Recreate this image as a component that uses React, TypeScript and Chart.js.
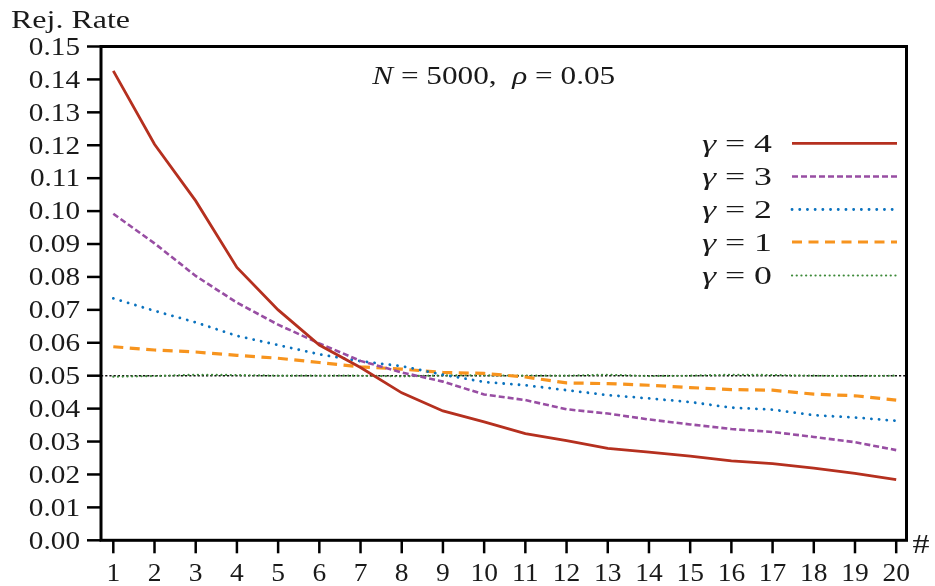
import React, { useEffect, useRef } from "react";
import { Chart, registerables } from "chart.js";

Chart.register(...registerables);

// ---- data ----
const steps = [1, 2, 3, 4, 5, 6, 7, 8, 9, 10, 11, 12, 13, 14, 15, 16, 17, 18, 19, 20];
const gamma4 = [0.1426, 0.1203, 0.1031, 0.0829, 0.0700, 0.0593, 0.0525, 0.0448, 0.0393, 0.0360, 0.0324, 0.0303, 0.0279, 0.0268, 0.0256, 0.0241, 0.0233, 0.0219, 0.0203, 0.0184];
const gamma3 = [0.0992, 0.0902, 0.0803, 0.0722, 0.0655, 0.0598, 0.0545, 0.0510, 0.0482, 0.0443, 0.0426, 0.0398, 0.0385, 0.0367, 0.0352, 0.0338, 0.0329, 0.0314, 0.0298, 0.0274];
const gamma2 = [0.0735, 0.0697, 0.0662, 0.0621, 0.0593, 0.0565, 0.0544, 0.0529, 0.0503, 0.0481, 0.0471, 0.0456, 0.0441, 0.0431, 0.0420, 0.0403, 0.0397, 0.0380, 0.0373, 0.0363];
const gamma1 = [0.0588, 0.0578, 0.0572, 0.0562, 0.0553, 0.0540, 0.0527, 0.0520, 0.0510, 0.0507, 0.0496, 0.0478, 0.0476, 0.0471, 0.0464, 0.0458, 0.0456, 0.0444, 0.0439, 0.0426];
const gamma0 = [0.0497, 0.0499, 0.0503, 0.0502, 0.0500, 0.0500, 0.0500, 0.0498, 0.0501, 0.0501, 0.0500, 0.0500, 0.0503, 0.0499, 0.0500, 0.0503, 0.0502, 0.0500, 0.0499, 0.0500];
const seriesNames = ["4", "3", "2", "1", "0"];
const yTickValues = [0, 0.01, 0.02, 0.03, 0.04, 0.05, 0.06, 0.07, 0.08, 0.09, 0.1, 0.11, 0.12, 0.13, 0.14, 0.15];
const yTickLabels = ["0.00", "0.01", "0.02", "0.03", "0.04", "0.05", "0.06", "0.07", "0.08", "0.09", "0.10", "0.11", "0.12", "0.13", "0.14", "0.15"];
const xTickLabels = ["1", "2", "3", "4", "5", "6", "7", "8", "9", "10", "11", "12", "13", "14", "15", "16", "17", "18", "19", "20"];
const referenceLevel = 0.05;
const yAxisTitle = "Rej. Rate";
const xAxisTitle = "#";
const titleN = "5000";
const titleRho = "0.05";

const FONT = '"Liberation Serif", "Times New Roman", serif';
const FS = 25;

type Part = [string, boolean];

function drawRich(
  ctx: CanvasRenderingContext2D,
  parts: Part[],
  x: number,
  y: number,
  align: "left" | "center" | "right",
  scale: number,
  targetWidth?: number,
  size: number = FS
) {
  ctx.save();
  ctx.textAlign = "left";
  ctx.textBaseline = "alphabetic";
  let total = 0;
  const widths: number[] = [];
  for (const [t, it] of parts) {
    ctx.font = `${it ? "italic " : ""}${size}px ${FONT}`;
    const w = ctx.measureText(t).width;
    widths.push(w);
    total += w;
  }
  const s = targetWidth ? targetWidth / total : scale;
  let sx = x;
  if (align === "center") sx = x - (total * s) / 2;
  else if (align === "right") sx = x - total * s;
  ctx.translate(sx, y);
  ctx.scale(s, 1);
  ctx.fillStyle = "#1a1a1a";
  let cx = 0;
  parts.forEach(([t, it], i) => {
    ctx.font = `${it ? "italic " : ""}${size}px ${FONT}`;
    ctx.fillText(t, cx, 0);
    cx += widths[i];
  });
  ctx.restore();
}

const decorPlugin = {
  id: "decor",
  beforeDatasetsDraw(chart: any) {
    const { ctx, chartArea, scales } = chart;
    const y = scales.y.getPixelForValue(referenceLevel);
    ctx.save();
    ctx.strokeStyle = "#111";
    ctx.lineWidth = 1.6;
    ctx.setLineDash([2.2, 2]);
    ctx.beginPath();
    ctx.moveTo(chartArea.left, y);
    ctx.lineTo(chartArea.right, y);
    ctx.stroke();
    ctx.restore();
  },
  afterDraw(chart: any) {
    const { ctx, chartArea, scales } = chart;
    const { left, right, top, bottom } = chartArea;
    ctx.save();
    ctx.strokeStyle = "#000";
    ctx.setLineDash([]);
    // y ticks
    ctx.lineWidth = 2.5;
    yTickValues.forEach((v, i) => {
      const py = scales.y.getPixelForValue(v);
      ctx.beginPath();
      ctx.moveTo(left - 14, py);
      ctx.lineTo(left, py);
      ctx.stroke();
      drawRich(ctx, [[yTickLabels[i], false]], left - 21, py + 8.3, "right", 1.17);
    });
    // x ticks
    steps.forEach((s, i) => {
      const px = scales.x.getPixelForValue(s);
      ctx.beginPath();
      ctx.moveTo(px, bottom);
      ctx.lineTo(px, bottom + 13);
      ctx.stroke();
      drawRich(ctx, [[xTickLabels[i], false]], px, bottom + 40.5, "center", 1.1);
    });
    // frame
    ctx.lineWidth = 3;
    ctx.strokeRect(left, top, right - left, bottom - top);
    ctx.restore();

    // axis titles
    drawRich(ctx, [[yAxisTitle, false]], 11, 27.5, "left", 1, 119);
    drawRich(ctx, [[xAxisTitle, false]], right + 6, bottom + 13, "left", 1, 17, 28);
    // title
    drawRich(
      ctx,
      [["N", true], [" = " + titleN + ",  ", false], ["ρ", true], [" = " + titleRho, false]],
      (left + right) / 2 - 10,
      84,
      "center",
      1,
      243
    );
    // legend
    const rowY = [143.3, 176.5, 209.5, 242, 275.5];
    chart.data.datasets.forEach((ds: any, i: number) => {
      const ry = rowY[i];
      drawRich(ctx, [["γ", true], [" = " + seriesNames[i], false]], 702, ry + 8.5, "left", 1, 70);
      ctx.save();
      ctx.strokeStyle = ds.borderColor;
      ctx.lineWidth = ds.borderWidth;
      ctx.lineCap = ds.borderCapStyle || "butt";
      ctx.setLineDash(ds.borderDash || []);
      ctx.beginPath();
      ctx.moveTo(792, ry);
      ctx.lineTo(897, ry);
      ctx.stroke();
      ctx.restore();
    });
  },
};

function toPoints(vals: number[]) {
  return steps.map((s, i) => ({ x: s, y: vals[i] }));
}

export default function App() {
  const ref = useRef<HTMLCanvasElement | null>(null);
  useEffect(() => {
    document.body.style.margin = "0";
    const canvas = ref.current;
    if (!canvas) return;
    const chart = new Chart(canvas, {
      type: "line",
      data: {
        datasets: [
          { label: "γ = 4", data: toPoints(gamma4), borderColor: "#B5301F", borderWidth: 2.8, borderDash: [], pointRadius: 0, tension: 0 },
          { label: "γ = 3", data: toPoints(gamma3), borderColor: "#984EA3", borderWidth: 2.6, borderDash: [6, 3], pointRadius: 0, tension: 0 },
          { label: "γ = 2", data: toPoints(gamma2), borderColor: "#0A72BE", borderWidth: 2.8, borderDash: [0.1, 7.6], borderCapStyle: "round", pointRadius: 0, tension: 0 },
          { label: "γ = 1", data: toPoints(gamma1), borderColor: "#F7941E", borderWidth: 3.2, borderDash: [10, 6.5], pointRadius: 0, tension: 0 },
          { label: "γ = 0", data: toPoints(gamma0), borderColor: "#3E8A3A", borderWidth: 2.2, borderDash: [0.1, 4.6], borderCapStyle: "round", pointRadius: 0, tension: 0 },
        ] as any,
      },
      options: {
        animation: false,
        responsive: false,
        devicePixelRatio: 1,
        layout: { padding: { left: 101, right: 28.5, top: 46.5, bottom: 45.7 } },
        scales: {
          x: { type: "linear", min: 0.7015, max: 20.25, display: false },
          y: { type: "linear", min: 0, max: 0.15, display: false },
        },
        plugins: { legend: { display: false }, tooltip: { enabled: false }, title: { display: false } },
        elements: { point: { radius: 0 } },
      },
      plugins: [decorPlugin],
    });
    return () => chart.destroy();
  }, []);
  return (
    <div style={{ width: 935, height: 586, background: "#fff" }}>
      <canvas ref={ref} width={935} height={586} style={{ display: "block" }} />
    </div>
  );
}
